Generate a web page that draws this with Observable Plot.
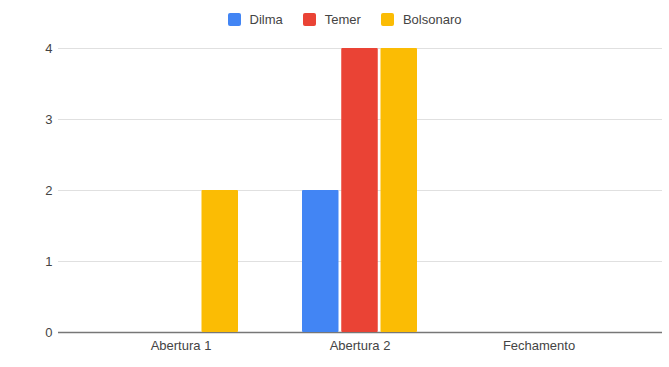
<!DOCTYPE html>
<html><head><meta charset="utf-8">
<script src="https://cdn.jsdelivr.net/npm/d3@7"></script>
<script src="https://cdn.jsdelivr.net/npm/@observablehq/plot@0.6"></script>
<style>
body{margin:0;background:#fff;font-family:Arial,"Liberation Sans",sans-serif;}
#legend{height:38px;display:flex;justify-content:center;align-items:center;padding-left:20px;box-sizing:border-box;}
#legend .lg-swatches{font-family:Arial,"Liberation Sans",sans-serif !important;font-size:13px !important;color:#444 !important;margin:0 !important;min-height:0 !important;}
#legend .lg-swatch{margin-right:20px !important;}
#legend .lg-swatch:last-child{margin-right:0 !important;}
#legend .lg-swatch > svg{margin-right:9px !important;}
#legend rect{rx:2px;ry:2px;}
#chart{position:relative;width:669px;height:329px;}
#chart > svg{position:absolute;left:0;top:0;}
</style></head><body><div id="legend"></div><div id="chart"></div>
<script>
const categories = ["Abertura 1", "Abertura 2", "Fechamento"];
const series = ["Dilma", "Temer", "Bolsonaro"];
const colors = ["#4285F4", "#EA4335", "#FBBC04"];
const dilma = [0, 2, 0];
const temer = [0, 4, 0];
const bolsonaro = [2, 4, 0];
const yTicks = [0, 1, 2, 3, 4];

const values = [dilma, temer, bolsonaro];
const data = series.flatMap((s, i) => categories.map((c, j) => ({category: c, series: s, value: values[i][j]})));

const legend = Plot.legend({color: {domain: series, range: colors}, swatchSize: 13, className: "lg"});
document.getElementById("legend").append(legend);

const common = {
  width: 669, height: 329,
  marginLeft: 58, marginRight: 7, marginTop: 10, marginBottom: 35,
  y: {domain: [0, 4], axis: null}
};

// Background layer: gridlines, y labels, baseline
const back = Plot.plot({
  ...common,
  style: {fontFamily: "Arial, 'Liberation Sans', sans-serif", fontSize: "13px", color: "#444", background: "#fff"},
  marks: [
    Plot.ruleY(yTicks.filter(d => d > 0), {stroke: "#e0e0e0"}),
    Plot.text(yTicks, {y: d => d, text: d => String(d), frameAnchor: "left", textAnchor: "end", dx: -6, fill: "#444"}),
    Plot.ruleY([0], {stroke: "#777", strokeWidth: 1.3})
  ]
});

// Foreground layer: grouped bars and category axis
const front = Plot.plot({
  ...common,
  style: {fontFamily: "Arial, 'Liberation Sans', sans-serif", fontSize: "13px", color: "#444", background: "transparent"},
  fx: {domain: categories, paddingInner: 0.356, paddingOuter: 0.356, label: null, tickSize: 0, tickPadding: 8, axis: "bottom"},
  x: {domain: series, paddingInner: 0.07, paddingOuter: 0, axis: null, round: false},
  color: {domain: series, range: colors},
  marks: [
    Plot.barY(data, {fx: "category", x: "series", y: "value", fill: "series", rx: 1})
  ]
});
document.getElementById("chart").append(back, front);
</script></body></html>
